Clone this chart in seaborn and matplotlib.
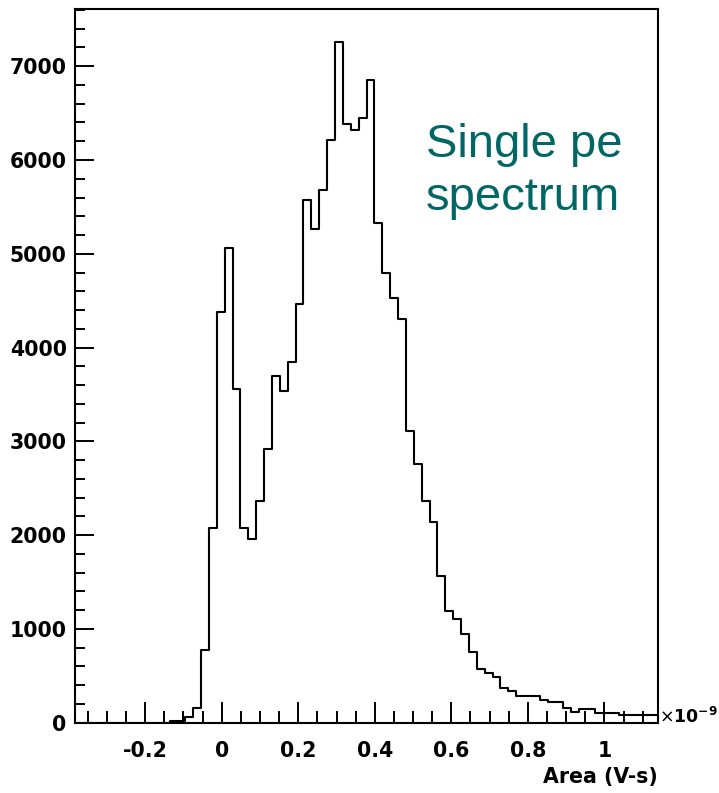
import numpy as np
import pandas as pd
import matplotlib
matplotlib.use("Agg")
import matplotlib.pyplot as plt
from matplotlib.ticker import MultipleLocator, FuncFormatter
from matplotlib.font_manager import FontProperties
import seaborn as sns

# Histogram binning of the pulse area (units of 1e-9 V-s)
area_lo = -0.3834
area_hi = 1.1400
n_bins = 74

# Entries per bin, left to right
counts = [
    0, 0, 0, 0, 0, 0, 0, 0, 0, 0, 0, 0,
    18, 22, 60, 160, 775, 2073, 4383, 5062, 3562, 2073,
    1956, 2367, 2919, 3700, 3537, 3850, 4465, 5574, 5268, 5681,
    6214, 7262, 6381, 6321, 6449, 6854, 5332, 4792, 4526, 4302,
    3111, 2756, 2364, 2137, 1559, 1194, 1106, 943, 754, 569,
    530, 491, 367, 338, 288, 288, 288, 242, 221, 221,
    153, 118, 143, 143, 107, 107, 107, 82, 82, 82,
    82, 82,
]

x_major_ticks = [-0.2, 0.0, 0.2, 0.4, 0.6, 0.8, 1.0]
y_major_ticks = [0, 1000, 2000, 3000, 4000, 5000, 6000, 7000]
y_top = 7610

edges = np.linspace(area_lo, area_hi, n_bins + 1)
centers = 0.5 * (edges[:-1] + edges[1:])
df = pd.DataFrame({"area": centers, "entries": np.asarray(counts, dtype=float)})

sns.set_style("white")
plt.rcParams.update({
    "axes.unicode_minus": False,
    "font.family": ["DejaVu Sans"],
    "mathtext.fontset": "dejavusans",
    "text.color": "black",
    "axes.labelcolor": "black",
    "xtick.color": "black",
    "ytick.color": "black",
    "axes.edgecolor": "black",
})

W, H, DPI = 719, 793, 100
fig = plt.figure(figsize=(W / DPI, H / DPI), dpi=DPI)
ax = fig.add_axes([75 / W, 1 - 722.7 / H, (658 - 75) / W, (722.7 - 9) / H])

sns.histplot(data=df, x="area", weights="entries", bins=edges.tolist(),
             element="step", fill=False, color="black", linewidth=1.5, ax=ax)

ax.set_xlim(area_lo, area_hi)
ax.set_ylim(0, y_top)
ax.set_ylabel("")

ax.set_xticks(x_major_ticks)
ax.xaxis.set_minor_locator(MultipleLocator(0.05))
ax.set_yticks(y_major_ticks)
ax.yaxis.set_minor_locator(MultipleLocator(200))
ax.xaxis.set_major_formatter(FuncFormatter(lambda v, p: f"{v:g}"))
ax.yaxis.set_major_formatter(FuncFormatter(lambda v, p: f"{int(round(v))}"))

label_font = dict(family="DejaVu Sans", weight="bold", size=14.8)
fp = FontProperties(**label_font)
for lab in ax.get_xticklabels() + ax.get_yticklabels():
    lab.set_fontproperties(fp)
    lab.set_color("black")

ax.tick_params(axis="x", which="major", direction="in", length=15, width=1.4,
               pad=13.5, top=False, bottom=True, colors="black")
ax.tick_params(axis="x", which="minor", direction="in", length=8.4, width=1.4,
               top=False, bottom=True, colors="black")
ax.tick_params(axis="y", which="major", direction="in", length=13.7, width=1.4,
               pad=6, right=False, left=True, colors="black")
ax.tick_params(axis="y", which="minor", direction="in", length=7.2, width=1.4,
               right=False, left=True, colors="black")

for s in ax.spines.values():
    s.set_visible(True)
    s.set_color("black")
    s.set_linewidth(1.5)

ax.set_xlabel("Area (V-s)", loc="right", labelpad=4, fontproperties=fp,
              color="black")

# Axis exponent marker at the right end of the x axis
ax.annotate(r"$\times\mathbf{10}^{\mathbf{-9}}$", xy=(1, 0),
            xycoords="axes fraction", xytext=(1, 0),
            textcoords="offset pixels", ha="left", va="baseline",
            fontsize=12.5, color="black")

teal = "#006666"
fig.text(426 / W, 1 - 157 / H, "Single pe", ha="left", va="baseline",
         family="Liberation Sans", size=34, color=teal)
fig.text(426 / W, 1 - 210 / H, "spectrum", ha="left", va="baseline",
         family="Liberation Sans", size=34, color=teal)

fig.savefig("out.png", dpi=DPI)
